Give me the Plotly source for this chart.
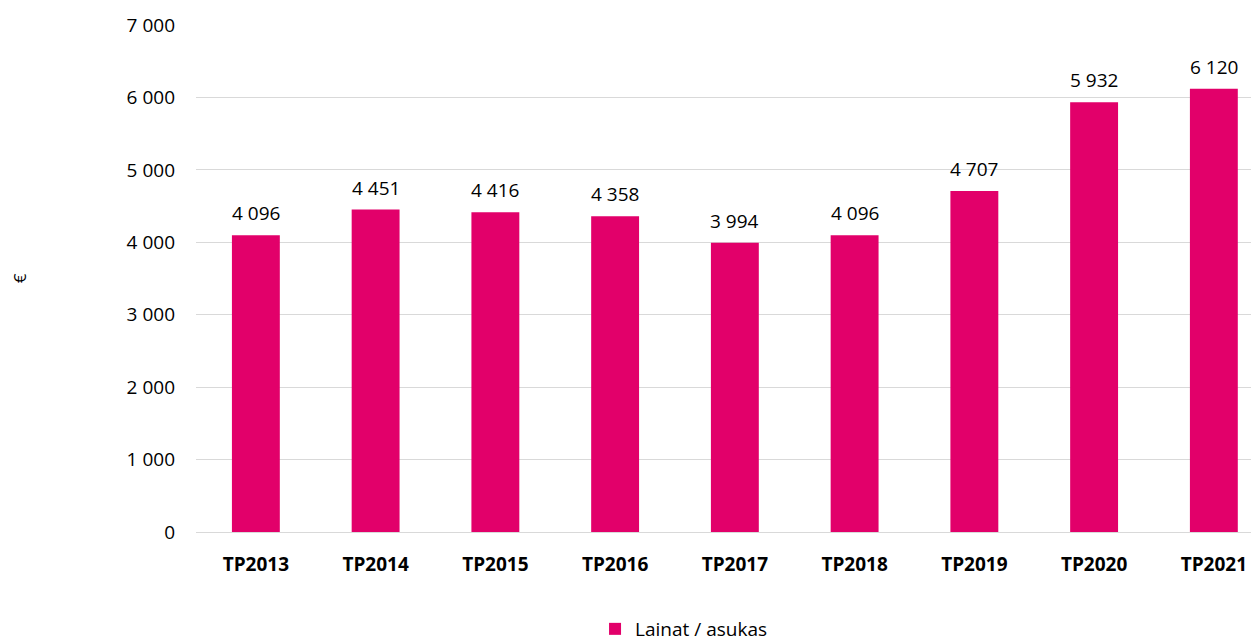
import plotly.graph_objects as go

categories = ["TP2013", "TP2014", "TP2015", "TP2016", "TP2017", "TP2018", "TP2019", "TP2020", "TP2021"]
values = [4096, 4451, 4416, 4358, 3994, 4096, 4707, 5932, 6120]
series_name = "Lainat / asukas"
y_ticks = [0, 1000, 2000, 3000, 4000, 5000, 6000, 7000]

color = "#E2006A"
font_family = "Open Sans, Segoe UI, sans-serif"
fs = 19

fig = go.Figure()
fig.add_trace(go.Bar(
    x=categories,
    y=values,
    name=series_name,
    marker=dict(color=color, line=dict(width=0)),
    width=0.4,
    showlegend=True,
))

for c, v in zip(categories, values):
    fig.add_annotation(
        x=c, y=v, xref="x", yref="y",
        text=f"{v:,}".replace(",", " "),
        showarrow=False, yanchor="bottom", yshift=7,
        font=dict(size=fs, color="#000000", family=font_family),
    )

# The page body has an 8px margin, so the figure is 8px smaller than the window
fig.update_layout(
    width=1251, height=633,
    margin=dict(l=188, r=0, t=17, b=109),
    paper_bgcolor="white",
    plot_bgcolor="white",
    separators=", ",
    font=dict(family=font_family, size=fs, color="#000000"),
    showlegend=True,
    legend=dict(
        orientation="h",
        xref="container", yref="container",
        x=0.540, xanchor="center",
        y=1 - 621 / 633, yanchor="middle",
        font=dict(size=fs, color="#000000"),
    ),
    xaxis=dict(
        type="category",
        range=[-0.5, 8.377],
        showgrid=False,
        showline=False,
        ticks="",
        tickfont=dict(size=fs, color="#000000", family=font_family, weight="bold"),
        ticklabelstandoff=19,
        automargin=False,
    ),
    yaxis=dict(
        range=[0, 7000],
        tickvals=y_ticks,
        tickformat=",d",
        showgrid=True,
        gridcolor="#D9D9D9",
        gridwidth=1,
        zeroline=True,
        zerolinecolor="#D9D9D9",
        zerolinewidth=1,
        showline=False,
        ticks="",
        ticklabelstandoff=20,
        tickfont=dict(size=fs, color="#000000"),
        title=dict(text="€", font=dict(size=17, color="#000000"), standoff=111),
        automargin=False,
    ),
)

fig.write_html("out.html")
